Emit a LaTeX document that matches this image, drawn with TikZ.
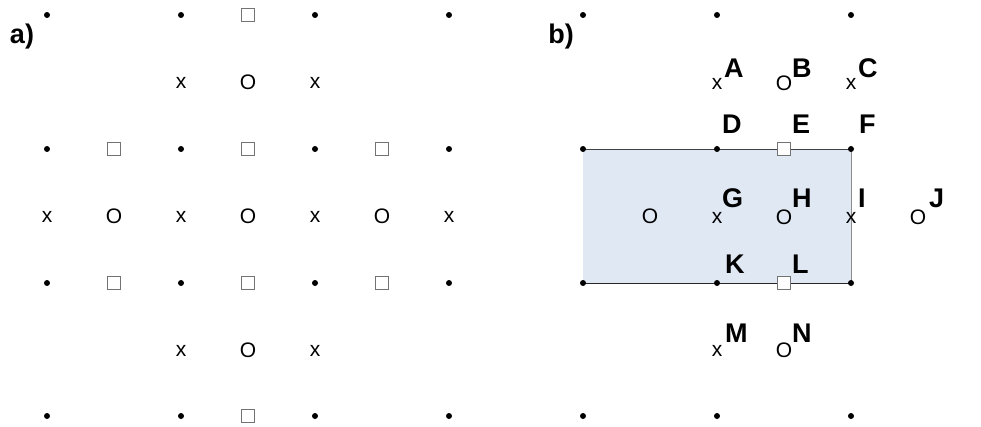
\documentclass[tikz,border=0pt]{standalone}
\usepackage{fontspec}
\setmainfont{Liberation Sans}
\begin{document}
\begin{tikzpicture}[x=1pt,y=-1pt,
  dotp/.style={circle,fill=black,inner sep=0pt,minimum size=6pt},
  sqp/.style={draw=black!55,fill=white,line width=0.9pt,inner sep=0pt,minimum size=13pt},
  mk/.style={inner sep=0pt,font=\fontsize{21}{21}\selectfont},
  lab/.style={inner sep=0pt,anchor=west,font=\fontsize{27}{27}\selectfont\bfseries},
  panel/.style={inner sep=0pt,font=\fontsize{27}{27}\selectfont\bfseries}]
\useasboundingbox (0,0) rectangle (981,426);
% ---------- panel a ----------
\node[panel] (pa) at (22,37) {a)};
% row 0
\node[dotp] (a00) at (47,15) {};
\node[dotp] (a02) at (181,15) {};
\node[sqp]  (a03) at (248,15) {};
\node[dotp] (a04) at (315,15) {};
\node[dotp] (a06) at (449,15) {};
% row 1
\node[mk] (a12) at (181,83) {x};
\node[mk] (a13) at (248,82) {O};
\node[mk] (a14) at (315,83) {x};
% row 2
\node[dotp] (a20) at (47,149) {};
\node[sqp]  (a21) at (114,149) {};
\node[dotp] (a22) at (181,149) {};
\node[sqp]  (a23) at (248,149) {};
\node[dotp] (a24) at (315,149) {};
\node[sqp]  (a25) at (382,149) {};
\node[dotp] (a26) at (449,149) {};
% row 3
\node[mk] (a30) at (47,217) {x};
\node[mk] (a31) at (114,216) {O};
\node[mk] (a32) at (181,217) {x};
\node[mk] (a33) at (248,216) {O};
\node[mk] (a34) at (315,217) {x};
\node[mk] (a35) at (382,216) {O};
\node[mk] (a36) at (449,217) {x};
% row 4
\node[dotp] (a40) at (47,283) {};
\node[sqp]  (a41) at (114,283) {};
\node[dotp] (a42) at (181,283) {};
\node[sqp]  (a43) at (248,283) {};
\node[dotp] (a44) at (315,283) {};
\node[sqp]  (a45) at (382,283) {};
\node[dotp] (a46) at (449,283) {};
% row 5
\node[mk] (a52) at (181,351) {x};
\node[mk] (a53) at (248,350) {O};
\node[mk] (a54) at (315,351) {x};
% row 6
\node[dotp] (a60) at (47,416) {};
\node[dotp] (a62) at (181,416) {};
\node[sqp]  (a63) at (248,416) {};
\node[dotp] (a64) at (315,416) {};
\node[dotp] (a66) at (449,416) {};
% ---------- panel b ----------
\node[panel] (pb) at (561,37) {b)};
\coordinate (rtl) at (583,149);
\coordinate (rbr) at (851,283);
\fill[fill={rgb,255:red,224;green,232;blue,244}] (rtl) rectangle (rbr);
\draw[draw=black!75,line width=0.9pt] (583,149) -- (851,149);
\draw[draw=black!85,line width=0.9pt] (583,283) -- (851,283);
\draw[draw=black!45,line width=0.9pt] (851,149) -- (851,283);
% row 0
\node[dotp] (b00) at (583,15) {};
\node[dotp] (b02) at (717,15) {};
\node[dotp] (b04) at (851,15) {};
% row 1
\node[mk] (b12) at (717,84) {x};
\node[mk] (b13) at (784,83) {O};
\node[mk] (b14) at (851,84) {x};
\node[lab] (lA) at (724,68) {A};
\node[lab] (lB) at (792,68) {B};
\node[lab] (lC) at (858,68) {C};
% row 2
\node[dotp] (b20) at (583,149) {};
\node[dotp] (b22) at (717,149) {};
\node[sqp]  (b23) at (784,149) {};
\node[dotp] (b24) at (851,149) {};
\node[lab] (lD) at (722,124) {D};
\node[lab] (lE) at (792,124) {E};
\node[lab] (lF) at (859,124) {F};
% row 3
\node[mk] (b31) at (650,216) {O};
\node[mk] (b32) at (717,218) {x};
\node[mk] (b33) at (784,217) {O};
\node[mk] (b34) at (851,218) {x};
\node[mk] (b35) at (918,217) {O};
\node[lab] (lG) at (722,198) {G};
\node[lab] (lH) at (792,198) {H};
\node[lab] (lI) at (858,198) {I};
\node[lab] (lJ) at (929,198) {J};
% row 4
\node[dotp] (b40) at (583,283) {};
\node[dotp] (b42) at (717,283) {};
\node[sqp]  (b43) at (784,283) {};
\node[dotp] (b44) at (851,283) {};
\node[lab] (lK) at (725,264) {K};
\node[lab] (lL) at (792,264) {L};
% row 5
\node[mk] (b52) at (717,351) {x};
\node[mk] (b53) at (784,350) {O};
\node[lab] (lM) at (725,333) {M};
\node[lab] (lN) at (792,333) {N};
% row 6
\node[dotp] (b60) at (583,416) {};
\node[dotp] (b62) at (717,416) {};
\node[dotp] (b64) at (851,416) {};
\end{tikzpicture}
\end{document}
